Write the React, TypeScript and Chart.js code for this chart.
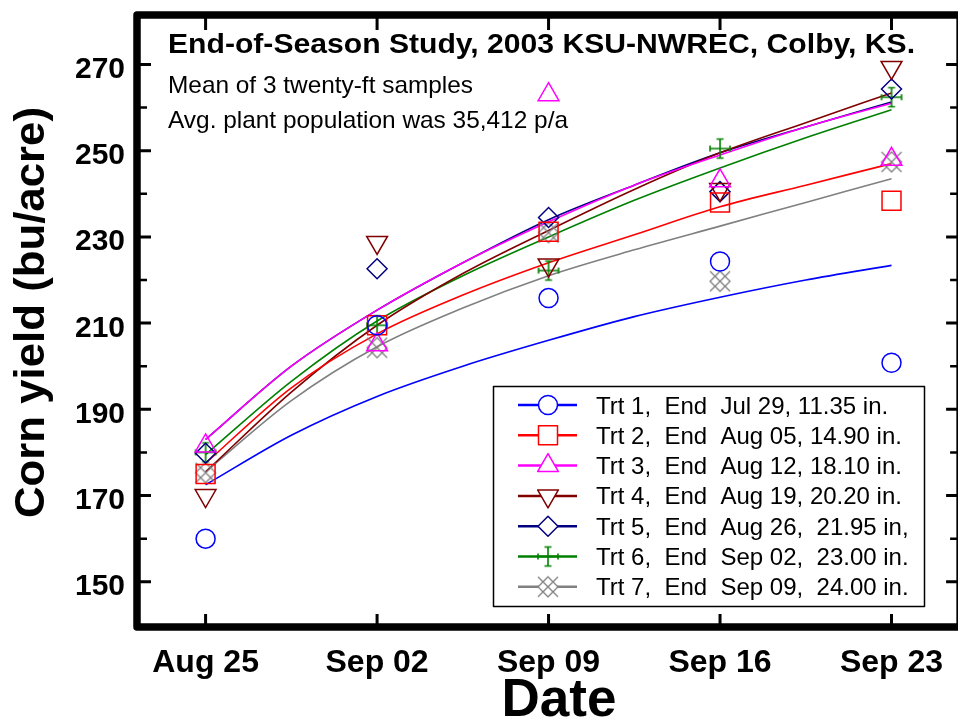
import React, { useEffect, useRef } from 'react';
import { Chart, registerables } from 'chart.js';

Chart.register(...registerables);

// ---- data ----
const X_LABELS = ['Aug 25', 'Sep 02', 'Sep 09', 'Sep 16', 'Sep 23'];
const X_POS = [1, 2, 3, 4, 5];
const Y_TICKS = [150, 170, 190, 210, 230, 250, 270];
const Y_MINOR = [160, 180, 200, 220, 240, 260];
const CURVE_X = [1, 1.5, 2, 2.5, 3, 3.5, 4, 4.5, 5];

const TRT1_PTS = [160, 209.5, 215.8, 224.3, 200.8];
const TRT2_PTS = [175, 209.5, 231.2, 238, 238.4];
const TRT3_PTS = [181.5, 205, 263, 243, 248];
const TRT4_PTS = [170, 228.7, 223.5, 241, 269.3];
const TRT5_PTS = [179.8, 222.6, 234.5, 240.5, 264.3];
const TRT6_PTS = [180, 209.5, 222.2, 250.5, 262.4];
const TRT7_PTS = [175.3, 204.3, 231, 219.7, 247.4];

const TRT1_FIT = [172.5, 184, 193, 200, 206, 211.5, 216, 220, 223.4];
const TRT2_FIT = [177.5, 195, 207.5, 216.5, 224, 230.5, 237, 242, 247];
const TRT3_FIT = [183, 200, 213, 224, 233.5, 242, 249, 255.5, 261];
const TRT4_FIT = [175.5, 194, 209.5, 221.5, 231.5, 241, 249.5, 256.5, 263.4];
const TRT5_FIT = [183, 200, 213, 224, 234, 242, 249.5, 255.5, 261.3];
const TRT6_FIT = [179.5, 196.5, 210.5, 221, 230, 238.5, 246, 253, 259.5];
const TRT7_FIT = [175.5, 192, 204.5, 213.5, 221, 227, 232.5, 238, 243.5];

const LEGEND_LABELS = [
  'Trt 1,  End  Jul 29, 11.35 in.',
  'Trt 2,  End  Aug 05, 14.90 in.',
  'Trt 3,  End  Aug 12, 18.10 in.',
  'Trt 4,  End  Aug 19, 20.20 in.',
  'Trt 5,  End  Aug 26,  21.95 in,',
  'Trt 6,  End  Sep 02,  23.00 in.',
  'Trt 7,  End  Sep 09,  24.00 in.',
];

const TITLE = 'End-of-Season Study, 2003 KSU-NWREC, Colby, KS.';
const NOTE1 = 'Mean of 3 twenty-ft samples';
const NOTE2 = 'Avg. plant population was 35,412 p/a';
const X_TITLE = 'Date';
const Y_TITLE = 'Corn yield (bu/acre)';

// ---- styles ----
const COLORS = ['#0000FF', '#FF0000', '#FF00FF', '#800000', '#000080', '#008000', '#808080'];
const MARKERS = ['circle', 'rect', 'triangle', 'triangleDown', 'diamond', 'errcross', 'lattice'];
const FONT = '"Liberation Sans", Arial, Helvetica, sans-serif';

function makeErrCross(color: string) {
  const c = document.createElement('canvas');
  c.width = 24; c.height = 24;
  const g = c.getContext('2d')!;
  g.strokeStyle = color; g.lineWidth = 1.6;
  g.beginPath();
  g.moveTo(12, 2.5); g.lineTo(12, 21.5);
  g.moveTo(8.5, 2.5); g.lineTo(15.5, 2.5);
  g.moveTo(8.5, 21.5); g.lineTo(15.5, 21.5);
  g.moveTo(2, 12); g.lineTo(22, 12);
  g.moveTo(2, 9); g.lineTo(2, 15);
  g.moveTo(22, 9); g.lineTo(22, 15);
  g.stroke();
  return c;
}

function makeLattice(color: string) {
  const c = document.createElement('canvas');
  c.width = 24; c.height = 24;
  const g = c.getContext('2d')!;
  g.strokeStyle = color; g.lineWidth = 1.3;
  const s = 10, m = 12;
  g.beginPath();
  g.moveTo(m - s, m - s); g.lineTo(m + s, m + s);
  g.moveTo(m - s, m + s); g.lineTo(m + s, m - s);
  g.moveTo(m, m - s); g.lineTo(m + s, m); g.lineTo(m, m + s); g.lineTo(m - s, m); g.closePath();
  g.stroke();
  return c;
}

function fitText(ctx: CanvasRenderingContext2D, text: string, x: number, y: number, width: number | null, align: CanvasTextAlign) {
  ctx.save();
  ctx.textAlign = align;
  ctx.textBaseline = 'alphabetic';
  ctx.translate(x, y);
  if (width) {
    const w = ctx.measureText(text).width;
    ctx.scale(width / w, 1);
  }
  ctx.fillText(text, 0, 0);
  ctx.restore();
}

export default function App() {
  const ref = useRef<HTMLCanvasElement | null>(null);

  useEffect(() => {
    const canvas = ref.current!;
    const imgs: Record<string, HTMLCanvasElement> = {
      errcross: makeErrCross(COLORS[5]),
      lattice: makeLattice(COLORS[6]),
    };
    const ptsAll = [TRT1_PTS, TRT2_PTS, TRT3_PTS, TRT4_PTS, TRT5_PTS, TRT6_PTS, TRT7_PTS];
    const fitAll = [TRT1_FIT, TRT2_FIT, TRT3_FIT, TRT4_FIT, TRT5_FIT, TRT6_FIT, TRT7_FIT];

    const pointStyleFor = (k: string): any => {
      if (k === 'circle') return { pointStyle: 'circle', radius: 9.5, rotation: 0 };
      if (k === 'rect') return { pointStyle: 'rect', radius: 13.4, rotation: 0 };
      if (k === 'triangle') return { pointStyle: 'triangle', radius: 12, rotation: 0 };
      if (k === 'triangleDown') return { pointStyle: 'triangle', radius: 12, rotation: 180 };
      if (k === 'diamond') return { pointStyle: 'rectRot', radius: 10, rotation: 0 };
      return { pointStyle: imgs[k], radius: 12, rotation: 0 };
    };

    const datasets: any[] = [];
    fitAll.forEach((arr, i) => {
      datasets.push({
        label: 'fit' + (i + 1),
        data: CURVE_X.map((x, j) => ({ x, y: arr[j] })),
        showLine: true,
        borderColor: COLORS[i],
        borderWidth: 1.6,
        pointRadius: 0,
        cubicInterpolationMode: 'monotone',
        fill: false,
        order: 2,
      });
    });
    ptsAll.forEach((arr, i) => {
      const ps = pointStyleFor(MARKERS[i]);
      datasets.push({
        label: 'pts' + (i + 1),
        data: X_POS.map((x, j) => ({ x, y: arr[j] })),
        showLine: false,
        borderColor: COLORS[i],
        backgroundColor: 'rgba(0,0,0,0)',
        pointBorderColor: COLORS[i],
        pointBackgroundColor: 'rgba(0,0,0,0)',
        pointBorderWidth: 1.5,
        pointStyle: ps.pointStyle,
        pointRadius: ps.radius,
        pointRotation: ps.rotation,
        order: 1,
      });
    });

    const drawLegendMarker = (ctx: CanvasRenderingContext2D, k: string, x: number, y: number, color: string) => {
      ctx.save();
      ctx.strokeStyle = color;
      ctx.fillStyle = '#fff';
      ctx.lineWidth = 1.5;
      ctx.beginPath();
      if (k === 'circle') {
        ctx.arc(x, y, 9.5, 0, Math.PI * 2);
      } else if (k === 'rect') {
        ctx.rect(x - 9.5, y - 9.5, 19, 19);
      } else if (k === 'triangle' || k === 'triangleDown') {
        const r = 12;
        const sgn = k === 'triangle' ? 1 : -1;
        for (let a = 0; a < 3; a++) {
          const ang = (a * 2 * Math.PI) / 3;
          const px = x + Math.sin(ang) * r;
          const py = y - sgn * Math.cos(ang) * r;
          if (a === 0) ctx.moveTo(px, py); else ctx.lineTo(px, py);
        }
        ctx.closePath();
      } else if (k === 'diamond') {
        ctx.moveTo(x, y - 10); ctx.lineTo(x + 10, y); ctx.lineTo(x, y + 10); ctx.lineTo(x - 10, y); ctx.closePath();
      }
      if (k === 'lattice') {
        ctx.moveTo(x, y - 10); ctx.lineTo(x + 10, y); ctx.lineTo(x, y + 10); ctx.lineTo(x - 10, y); ctx.closePath();
        ctx.fill();
        ctx.drawImage(imgs.lattice, x - 12, y - 12);
      } else if (k === 'errcross') {
        ctx.drawImage(imgs.errcross, x - 12, y - 12);
      } else {
        ctx.fill();
        ctx.stroke();
      }
      ctx.restore();
    };

    const decor = {
      id: 'decor',
      afterDraw(chart: any) {
        const ctx: CanvasRenderingContext2D = chart.ctx;
        const { left, right, top, bottom } = chart.chartArea;
        const xs = chart.scales.x;
        const ys = chart.scales.y;
        ctx.save();
        ctx.fillStyle = '#000';
        ctx.strokeStyle = '#000';

        // ticks (inward)
        ctx.lineCap = 'butt';
        ctx.lineWidth = 3;
        ctx.beginPath();
        Y_TICKS.forEach((v) => {
          const py = ys.getPixelForValue(v);
          ctx.moveTo(left, py); ctx.lineTo(left + 14, py);
          ctx.moveTo(right, py); ctx.lineTo(right - 14, py);
        });
        X_POS.forEach((v) => {
          const px = xs.getPixelForValue(v);
          ctx.moveTo(px, top); ctx.lineTo(px, top + 15);
          ctx.moveTo(px, bottom); ctx.lineTo(px, bottom - 13);
        });
        ctx.stroke();
        ctx.lineWidth = 2.5;
        ctx.beginPath();
        Y_MINOR.forEach((v) => {
          const py = ys.getPixelForValue(v);
          ctx.moveTo(left, py); ctx.lineTo(left + 10, py);
          ctx.moveTo(right, py); ctx.lineTo(right - 10, py);
        });
        ctx.stroke();

        // frame
        ctx.lineWidth = 7.5;
        ctx.lineJoin = 'round';
        ctx.strokeRect(left, top, right - left, bottom - top);

        // y tick labels
        ctx.font = `bold 30px ${FONT}`;
        Y_TICKS.forEach((v) => {
          const py = ys.getPixelForValue(v);
          fitText(ctx, String(v), 125, py + 13.5, null, 'right');
        });
        // x tick labels
        ctx.font = `bold 32px ${FONT}`;
        X_POS.forEach((v, i) => {
          const px = xs.getPixelForValue(v);
          fitText(ctx, X_LABELS[i], px, 672, null, 'center');
        });
        // axis titles
        ctx.font = `bold 54px ${FONT}`;
        fitText(ctx, X_TITLE, 559, 716, 115, 'center');
        ctx.save();
        ctx.translate(44, 312.5);
        ctx.rotate(-Math.PI / 2);
        ctx.font = `bold 43px ${FONT}`;
        fitText(ctx, Y_TITLE, 0, 0, 411, 'center');
        ctx.restore();

        // title + notes
        ctx.font = `bold 28px ${FONT}`;
        fitText(ctx, TITLE, 168, 53, 747, 'left');
        ctx.font = `24px ${FONT}`;
        fitText(ctx, NOTE1, 168, 93, 305, 'left');
        fitText(ctx, NOTE2, 168, 128, 400, 'left');

        // legend
        ctx.fillStyle = '#fff';
        ctx.fillRect(493.5, 386.5, 431, 220);
        ctx.lineWidth = 1.5;
        ctx.strokeStyle = '#000';
        ctx.strokeRect(493.5, 386.5, 431, 220);
        LEGEND_LABELS.forEach((lab, i) => {
          const ry = 405 + i * 30.3;
          ctx.strokeStyle = COLORS[i];
          ctx.lineWidth = 2.5;
          ctx.beginPath();
          ctx.moveTo(518, ry); ctx.lineTo(577, ry);
          ctx.stroke();
          drawLegendMarker(ctx, MARKERS[i], 548, ry, COLORS[i]);
          ctx.fillStyle = '#000';
          ctx.font = `24px ${FONT}`;
          fitText(ctx, lab, 596, ry + 8.5, null, 'left');
        });
        ctx.restore();
      },
    };

    const chart = new Chart(canvas, {
      type: 'scatter',
      data: { datasets },
      options: {
        responsive: false,
        animation: false,
        events: [],
        layout: { padding: { left: 137, top: 12, right: 8, bottom: 90 } },
        plugins: { legend: { display: false }, tooltip: { enabled: false } },
        scales: {
          x: { type: 'linear', min: 0.6, max: 5.4, display: false },
          y: { type: 'linear', min: 139.5, max: 281.5, display: false },
        },
      } as any,
      plugins: [decor],
    });
    return () => chart.destroy();
  }, []);

  return (
    <div style={{ position: 'fixed', left: 0, top: 0, width: 958, height: 717, overflow: 'hidden', background: '#fff' }}>
      <canvas ref={ref} width={975} height={717} style={{ display: 'block' }} />
    </div>
  );
}
